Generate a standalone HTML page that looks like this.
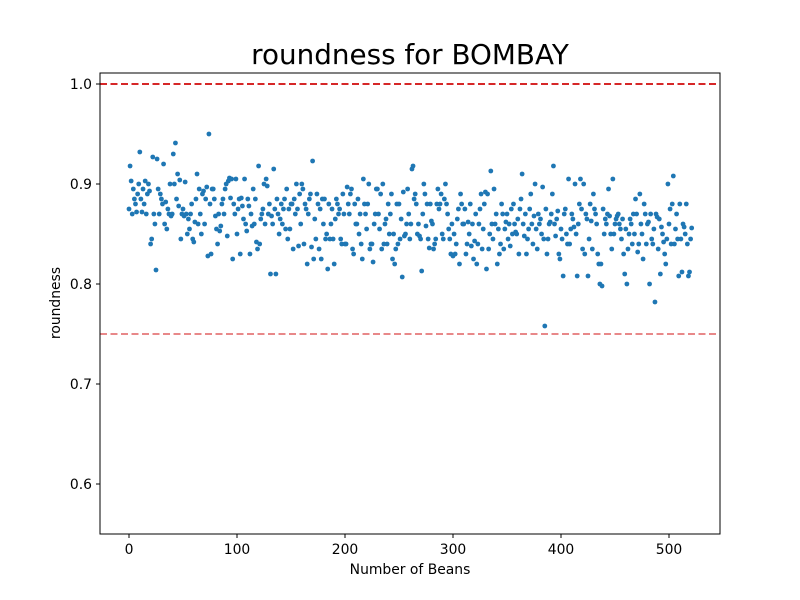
<!DOCTYPE html>
<html><head><meta charset="utf-8"><style>
body{margin:0;background:#fff;}
svg{display:block;font-family:"DejaVu Sans","Liberation Sans",sans-serif;}
</style></head><body>
<svg id="chart" width="800" height="600" viewBox="0 0 800 600">
<rect width="800" height="600" fill="#fff"/>
<text x="410" y="64" font-size="27.8" text-anchor="middle" fill="#000">roundness for BOMBAY</text>
<g id="grid"></g>
<g id="points"></g>
<rect x="100" y="73" width="620" height="461" fill="none" stroke="#000" stroke-width="1"/>
<g id="ticks"></g>
<text x="410" y="574" font-size="13.9" text-anchor="middle">Number of Beans</text>
<text x="60" y="303" font-size="13.9" text-anchor="middle" transform="rotate(-90 60 303)">roundness</text>
</svg>
<script>
const yValues=[.875,.918,.903,.87,.895,.885,.88,.872,.89,.9,.932,.885,.872,.895,.88,.903,.87,.89,.9,.893,
.84,.845,.927,.87,.86,.814,.925,.895,.87,.89,.885,.88,.92,.86,.882,.855,.875,.87,.9,.868,
.87,.93,.9,.941,.885,.91,.878,.904,.845,.87,.875,.868,.902,.87,.85,.865,.855,.87,.88,.845,
.842,.862,.885,.91,.86,.895,.87,.85,.89,.893,.86,.885,.897,.828,.95,.88,.83,.895,.895,.885,
.868,.855,.84,.87,.853,.858,.88,.885,.87,.895,.9,.848,.903,.906,.886,.905,.825,.88,.87,.905,
.85,.875,.885,.83,.886,.878,.865,.905,.86,.853,.885,.878,.83,.87,.858,.895,.86,.885,.842,.835,
.918,.84,.865,.87,.875,.9,.86,.905,.898,.87,.88,.81,.868,.86,.915,.875,.81,.885,.87,.85,
.865,.88,.86,.875,.885,.855,.895,.845,.875,.855,.88,.88,.835,.885,.87,.9,.875,.838,.89,.86,
.9,.895,.84,.88,.875,.82,.87,.885,.89,.837,.923,.825,.865,.845,.89,.88,.835,.875,.825,.885,
.86,.885,.845,.85,.815,.88,.845,.86,.875,.845,.82,.865,.885,.88,.87,.875,.845,.84,.89,.87,
.84,.84,.897,.88,.87,.89,.895,.835,.83,.88,.86,.86,.885,.85,.87,.84,.825,.905,.88,.87,
.855,.88,.9,.835,.84,.84,.822,.86,.87,.895,.895,.87,.855,.89,.835,.9,.84,.86,.865,.84,
.88,.85,.87,.89,.825,.85,.82,.835,.88,.84,.88,.845,.865,.807,.892,.848,.85,.86,.895,.87,
.845,.86,.915,.918,.885,.89,.88,.85,.86,.848,.845,.813,.87,.9,.89,.858,.88,.845,.836,.88,
.863,.86,.835,.84,.845,.88,.895,.875,.88,.89,.85,.845,.885,.9,.88,.87,.855,.845,.83,.86,
.828,.85,.83,.84,.865,.875,.82,.89,.88,.86,.86,.875,.83,.84,.862,.85,.88,.838,.86,.825,
.843,.87,.82,.84,.86,.875,.89,.835,.855,.88,.892,.815,.89,.835,.85,.913,.86,.845,.895,.86,
.87,.82,.855,.83,.84,.88,.87,.835,.855,.862,.87,.845,.86,.838,.875,.85,.88,.86,.852,.85,
.865,.83,.875,.885,.91,.86,.848,.87,.83,.845,.855,.875,.89,.86,.84,.868,.9,.855,.835,.87,
.86,.865,.85,.897,.845,.758,.875,.83,.845,.86,.862,.87,.89,.918,.86,.848,.865,.873,.83,.825,
.855,.845,.808,.87,.875,.85,.84,.905,.84,.855,.87,.865,.857,.9,.85,.808,.86,.88,.905,.875,
.835,.9,.83,.87,.865,.808,.845,.88,.863,.835,.89,.875,.87,.86,.83,.82,.8,.82,.798,.875,
.85,.865,.86,.87,.895,.868,.85,.835,.905,.85,.86,.865,.868,.87,.86,.855,.845,.865,.83,.81,
.855,.8,.835,.85,.865,.86,.84,.87,.85,.885,.87,.832,.84,.89,.86,.85,.825,.88,.87,.84,
.86,.862,.8,.87,.845,.84,.855,.782,.87,.867,.835,.865,.81,.857,.85,.842,.83,.82,.845,.9,
.86,.875,.84,.88,.908,.84,.855,.87,.845,.808,.88,.845,.812,.86,.857,.85,.88,.84,.808,.812,.845,.856];
const xTicks=[0,100,200,300,400,500];
const yTicks=[0.6,0.7,0.8,0.9,1.0];
const refLines=[1.0,0.75];
const NS="http://www.w3.org/2000/svg";
function xs(v){return 129+v*1.08;}
function ys(v){return 84+(1.0-v)*1000;}
const pts=document.getElementById('points');
yValues.forEach((v,i)=>{
  const c=document.createElementNS(NS,'circle');
  c.setAttribute('cx',xs(i));c.setAttribute('cy',ys(v));c.setAttribute('r',2.4);c.setAttribute('fill','#1f77b4');
  
  
  pts.appendChild(c);
});
const grid=document.getElementById('grid');
refLines.forEach((v,i)=>{
  const l=document.createElementNS(NS,'line');
  l.setAttribute('x1',100);l.setAttribute('x2',720);l.setAttribute('y1',ys(v));l.setAttribute('y2',ys(v));
  l.setAttribute('stroke','#d62728');l.setAttribute('stroke-width',2);l.setAttribute('stroke-dasharray','7,3.5');
  if(i===1)l.setAttribute('stroke-opacity',0.55);
  
  
  grid.appendChild(l);
});
const tk=document.getElementById('ticks');
xTicks.forEach(t=>{
  const l=document.createElementNS(NS,'line');
  l.setAttribute('x1',xs(t));l.setAttribute('x2',xs(t));l.setAttribute('y1',534);l.setAttribute('y2',538);l.setAttribute('stroke','#000');
  
  
  tk.appendChild(l);
  const tx=document.createElementNS(NS,'text');
  tx.setAttribute('x',xs(t));tx.setAttribute('y',554);tx.setAttribute('font-size',13.9);tx.setAttribute('text-anchor','middle');
  tx.textContent=t;
  
  
  tk.appendChild(tx);
});
yTicks.forEach(t=>{
  const l=document.createElementNS(NS,'line');
  l.setAttribute('x1',96);l.setAttribute('x2',100);l.setAttribute('y1',ys(t));l.setAttribute('y2',ys(t));l.setAttribute('stroke','#000');
  
  
  tk.appendChild(l);
  const tx=document.createElementNS(NS,'text');
  tx.setAttribute('x',92);tx.setAttribute('y',ys(t)+5);tx.setAttribute('font-size',13.9);tx.setAttribute('text-anchor','end');
  tx.textContent=t.toFixed(1);
  
  
  tk.appendChild(tx);
});
</script>
</body></html>
